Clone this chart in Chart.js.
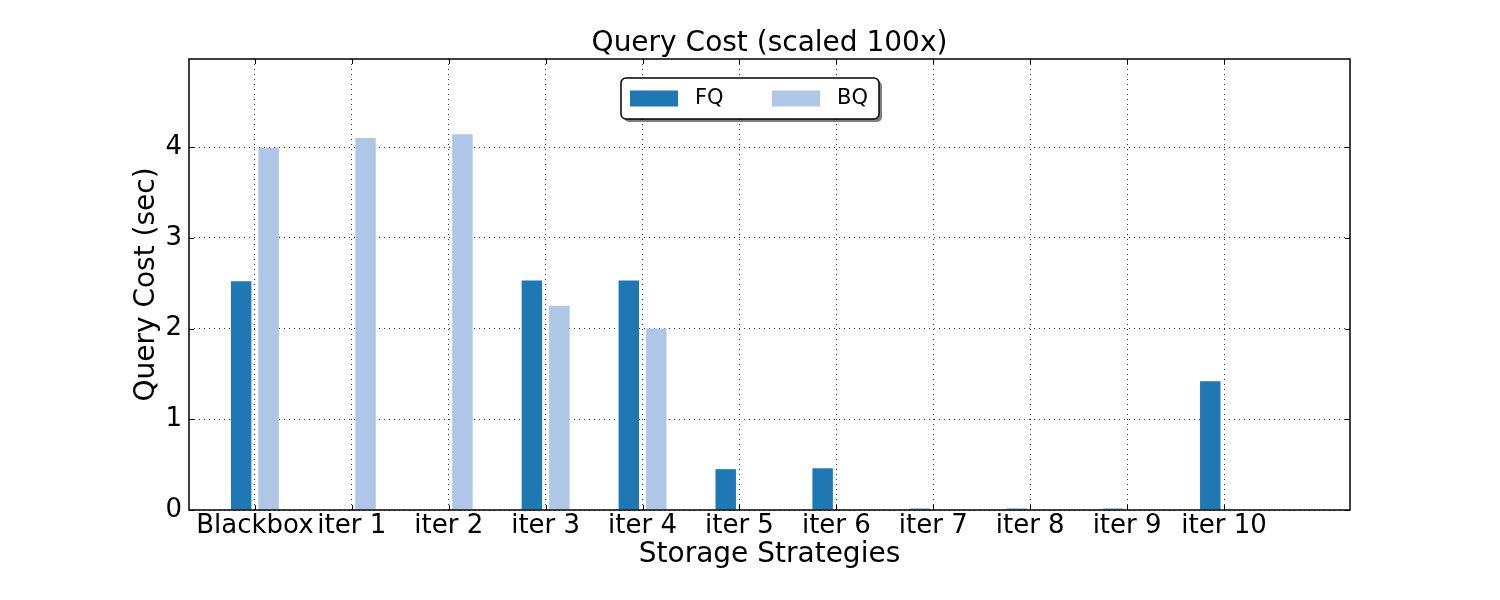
<!DOCTYPE html>
<html>
<head>
<meta charset="utf-8">
<script src="https://cdn.jsdelivr.net/npm/chart.js@4.4.1/dist/chart.umd.min.js"></script>
<style>
  html, body { margin: 0; padding: 0; background: #fff; }
  #wrap { width: 1500px; height: 600px; }
</style>
</head>
<body>
<div id="wrap"><canvas id="queryChart"></canvas></div>
<script>
// data
const strategies = ["Blackbox", "iter 1", "iter 2", "iter 3", "iter 4", "iter 5",
                    "iter 6", "iter 7", "iter 8", "iter 9", "iter 10"];
const fqCost = [2.52, 0, 0, 2.53, 2.53, 0.45, 0.46, 0.015, 0.015, 0.015, 1.42];
const bqCost = [3.99, 4.10, 4.14, 2.25, 2.00, 0, 0, 0, 0, 0, 0];
const yTicks = [0, 1, 2, 3, 4];
const seriesNames = ["FQ", "BQ"];
const seriesColors = ["#1f77b4", "#aec7e8"];
const chartTitle = 'Query Cost (scaled 100x)';

const FONT = "'DejaVu Sans', sans-serif";

// title centred over the plot area (not the whole canvas)
const titlePlugin = {
  id: 'plotTitle',
  afterDraw(chart) {
    const {ctx, chartArea: a} = chart;
    ctx.save();
    ctx.font = '28px ' + FONT;
    ctx.fillStyle = '#000';
    ctx.textAlign = 'center';
    ctx.textBaseline = 'middle';
    ctx.fillText(chartTitle, (a.left + a.right) / 2, a.top - 15);
    ctx.restore();
  }
};

// box around the plot + small inward ticks (matplotlib classic look)
const framePlugin = {
  id: 'frame',
  afterDraw(chart) {
    const {ctx, chartArea: a, scales: {x, y}} = chart;
    ctx.save();
    ctx.strokeStyle = '#000';
    ctx.lineWidth = 1;
    ctx.beginPath();
    strategies.forEach((_, i) => {
      const px = Math.round(x.getPixelForValue(i)) + 0.5;
      ctx.moveTo(px, a.bottom); ctx.lineTo(px, a.bottom - 5);
      ctx.moveTo(px, a.top); ctx.lineTo(px, a.top + 5);
    });
    yTicks.forEach(v => {
      const py = Math.round(y.getPixelForValue(v)) + 0.5;
      ctx.moveTo(a.left, py); ctx.lineTo(a.left + 5, py);
      ctx.moveTo(a.right, py); ctx.lineTo(a.right - 5, py);
    });
    ctx.stroke();
    ctx.lineWidth = 1.5;
    ctx.strokeRect(a.left, a.top, a.right - a.left, a.bottom - a.top);
    ctx.restore();
  }
};

// legend box with shadow, upper centre
const legendPlugin = {
  id: 'boxLegend',
  afterDatasetsDraw(chart) {
    const {ctx, chartArea: a} = chart;
    const w = 258, h = 41;
    const left = Math.round(chart.width / 2 - w / 2);
    const top = a.top + 19;
    ctx.save();
    ctx.fillStyle = 'rgba(0,0,0,0.5)';
    ctx.beginPath();
    ctx.roundRect(left + 3, top + 3, w, h, 5);
    ctx.fill();
    ctx.fillStyle = '#fff';
    ctx.strokeStyle = '#000';
    ctx.lineWidth = 1.5;
    ctx.beginPath();
    ctx.roundRect(left, top, w, h, 5);
    ctx.fill();
    ctx.stroke();
    ctx.font = '21px ' + FONT;
    ctx.textBaseline = 'middle';
    ctx.textAlign = 'left';
    const cy = top + h / 2;
    const offs = [9, 151];
    seriesNames.forEach((name, i) => {
      ctx.fillStyle = seriesColors[i];
      ctx.fillRect(left + offs[i], cy - 8, 48, 16);
      ctx.fillStyle = '#000';
      ctx.fillText(name, left + offs[i] + 65, cy);
    });
    ctx.restore();
  }
};

new Chart("queryChart", {
  type: "bar",
  data: {
    datasets: [
      {
        label: seriesNames[0],
        data: fqCost.map((v, i) => ({x: i, y: v})),
        backgroundColor: seriesColors[0],
        borderWidth: 0,
        categoryPercentage: 0.567,
        barPercentage: 0.745
      },
      {
        label: seriesNames[1],
        data: bqCost.map((v, i) => ({x: i, y: v})),
        backgroundColor: seriesColors[1],
        borderWidth: 0,
        categoryPercentage: 0.567,
        barPercentage: 0.745
      }
    ]
  },
  options: {
    responsive: true,
    maintainAspectRatio: false,
    devicePixelRatio: 1,
    animation: false,
    layout: { padding: { top: 59, right: 150, bottom: 0, left: 0 } },
    plugins: {
      legend: { display: false },
      tooltip: { enabled: false },
      title: { display: false }
    },
    scales: {
      x: {
        type: 'linear',
        min: -0.68,
        max: 11.3,
        offset: false,
        afterBuildTicks: (scale) => { scale.ticks = strategies.map((_, i) => ({value: i})); },
        afterFit: (scale) => { scale.height = 90; },
        grid: { offset: false, color: 'rgba(0,0,0,0.8)', lineWidth: 1, drawTicks: false },
        border: { display: false, dash: [1, 4] },
        ticks: {
          autoSkip: false,
          maxRotation: 0,
          padding: 1,
          color: '#000',
          font: { family: FONT, size: 26 },
          callback: (v) => strategies[v] ?? ''
        },
        title: {
          display: true,
          text: 'Storage Strategies',
          color: '#000',
          font: { family: FONT, size: 28 },
          padding: { top: 0, bottom: 28 }
        }
      },
      y: {
        min: 0,
        max: 4.97,
        afterBuildTicks: (scale) => { scale.ticks = yTicks.map(v => ({value: v})); },
        afterFit: (scale) => { scale.width = 189; },
        grid: { color: 'rgba(0,0,0,0.8)', lineWidth: 1, drawTicks: false },
        border: { display: false, dash: [1, 4] },
        ticks: {
          padding: 7,
          color: '#000',
          font: { family: FONT, size: 26 },
          callback: (v) => String(v)
        },
        title: {
          display: true,
          text: 'Query Cost (sec)',
          color: '#000',
          font: { family: FONT, size: 28 },
          padding: { top: 130, bottom: 0 }
        }
      }
    }
  },
  plugins: [legendPlugin, framePlugin, titlePlugin]
});
</script>
</body>
</html>
